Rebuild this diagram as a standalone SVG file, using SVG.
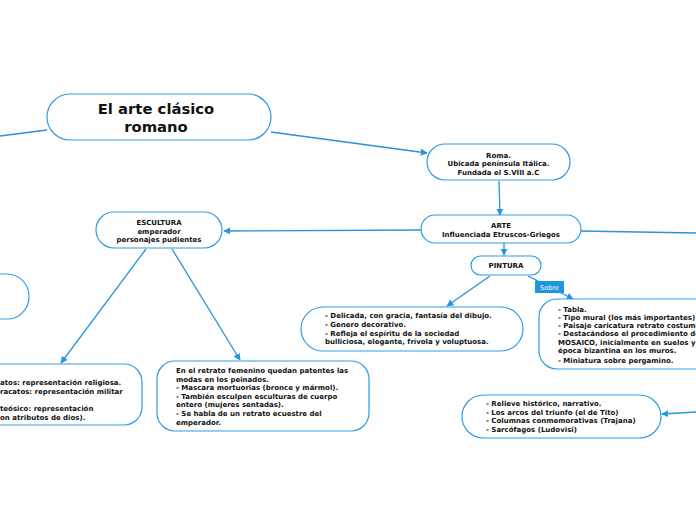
<svg xmlns="http://www.w3.org/2000/svg" width="696" height="520" viewBox="0 0 696 520">
<style>
.n{fill:#fff;stroke:#2e9be2;stroke-width:1.2}
.e{fill:none;stroke:#2793dc;stroke-width:1.3}
.t{font-family:"DejaVu Sans",Verdana,sans-serif;font-weight:bold;font-size:7px;fill:#111}
.c{text-anchor:middle}
.h{font-family:"DejaVu Sans",Verdana,sans-serif;font-weight:bold;font-size:14.8px;fill:#111;text-anchor:middle}
</style>
<defs>
<marker id="a" viewBox="0 0 10 10" refX="9" refY="5" markerWidth="7" markerHeight="7" markerUnits="userSpaceOnUse" orient="auto">
<path d="M0,0 L10,5 L0,10 z" fill="#2793dc"/>
</marker>
</defs>
<rect width="696" height="520" fill="#fff"/>
<g id="connectors">
<line class="e" x1="47" y1="130" x2="0" y2="136"/>
<line class="e" x1="271" y1="132" x2="427" y2="153" marker-end="url(#a)"/>
<line class="e" x1="499" y1="181" x2="500" y2="215" marker-end="url(#a)"/>
<line class="e" x1="421" y1="230" x2="224" y2="231" marker-end="url(#a)"/>
<line class="e" x1="581" y1="231" x2="696" y2="233"/>
<line class="e" x1="504" y1="243" x2="504" y2="255" marker-end="url(#a)"/>
<line class="e" x1="490" y1="276" x2="447" y2="306" marker-end="url(#a)"/>
<line class="e" x1="528" y1="276" x2="573" y2="299" marker-end="url(#a)"/>
<line class="e" x1="146" y1="249" x2="61" y2="363" marker-end="url(#a)"/>
<line class="e" x1="172" y1="249" x2="240" y2="360" marker-end="url(#a)"/>
<line class="e" x1="696" y1="412" x2="662" y2="414" marker-end="url(#a)"/>
<g id="label-sobre">
<rect x="535" y="281" width="29" height="12" fill="#1f96df"/>
<text x="549.5" y="289.5" font-family="DejaVu Sans,Verdana,sans-serif" font-size="6.5" fill="#fff" text-anchor="middle">Sobre</text>
</g>
</g>
<g id="title">
<rect class="n" x="47" y="94" width="224" height="46" rx="23"/>
<text class="h" x="156" y="114">El arte clásico</text>
<text class="h" x="156" y="132">romano</text>
</g>
<g id="roma">
<rect class="n" x="427" y="144" width="143" height="36" rx="18"/>
<text class="t c" x="498.5" y="157.5">Roma.</text>
<text class="t c" x="498.5" y="166">Ubicada península Itálica.</text>
<text class="t c" x="498.5" y="174.5">Fundada el S.VIII a.C</text>
</g>
<g id="arte">
<rect class="n" x="421" y="215" width="160" height="28" rx="14"/>
<text class="t c" x="501" y="228">ARTE</text>
<text class="t c" x="501" y="237">Influenciada Etruscos-Griegos</text>
</g>
<g id="pintura">
<rect class="n" x="471" y="256" width="70" height="19" rx="9.5"/>
<text class="t c" x="506" y="267.5">PINTURA</text>
</g>
<g id="escultura">
<rect class="n" x="96" y="212" width="126" height="36" rx="18"/>
<text class="t c" x="159" y="225">ESCULTURA</text>
<text class="t c" x="159" y="233.5">emperador</text>
<text class="t c" x="159" y="242">personajes pudientes</text>
</g>
<g id="left-node">
<rect class="n" x="-60" y="274" width="89" height="45" rx="22"/>
</g>
<g id="bustos">
<rect class="n" x="-80" y="364" width="222" height="61" rx="18"/>
<text class="t" x="0" y="385">atos: representación religiosa.</text>
<text class="t" x="0" y="393.5">racatos: representación militar</text>
<text class="t" x="0" y="411">teósico: representación</text>
<text class="t" x="0" y="419.5">on atributos de dios).</text>
</g>
<g id="retrato">
<rect class="n" x="157" y="361" width="212" height="70" rx="18"/>
<text class="t" x="176" y="373">En el retrato femenino quedan patentes las</text>
<text class="t" x="176" y="381.6">modas en los peinados.</text>
<text class="t" x="176" y="390.2">- Mascara mortuorias (bronce y mármol).</text>
<text class="t" x="176" y="398.8">- También esculpen esculturas de cuerpo</text>
<text class="t" x="176" y="407.4">entero (mujeres sentadas).</text>
<text class="t" x="176" y="416">- Se habla de un retrato ecuestre del</text>
<text class="t" x="176" y="424.6">emperador.</text>
</g>
<g id="delicada">
<rect class="n" x="301" y="307" width="222" height="44" rx="22"/>
<text class="t" x="325" y="318">- Delicada, con gracia, fantasía del dibujo.</text>
<text class="t" x="325" y="326.8">- Genero decorativo.</text>
<text class="t" x="325" y="335.6">- Refleja el espíritu de la sociedad</text>
<text class="t" x="325" y="344.4">bulliciosa, elegante, frívola y voluptuosa.</text>
</g>
<g id="tabla">
<rect class="n" x="539" y="299" width="200" height="70" rx="18"/>
<text class="t" x="558" y="311.5">- Tabla.</text>
<text class="t" x="558" y="319.8">- Tipo mural (los más importantes)</text>
<text class="t" x="558" y="328.1">- Paisaje caricatura retrato costumi</text>
<text class="t" x="558" y="336.4">- Destacándose el procedimiento de</text>
<text class="t" x="558" y="344.7">MOSAICO, inicialmente en suelos y</text>
<text class="t" x="558" y="353">época bizantina en los muros.</text>
<text class="t" x="558" y="362.5">- Miniatura sobre pergamino.</text>
</g>
<g id="relieve">
<rect class="n" x="462" y="395" width="199" height="43" rx="21.5"/>
<text class="t" x="486" y="406">- Relieve histórico, narrativo.</text>
<text class="t" x="486" y="414.5">- Los arcos del triunfo (el de Tito)</text>
<text class="t" x="486" y="423">- Columnas conmemorativas (Trajana)</text>
<text class="t" x="486" y="431.5">- Sarcófagos (Ludovisi)</text>
</g>
</svg>
